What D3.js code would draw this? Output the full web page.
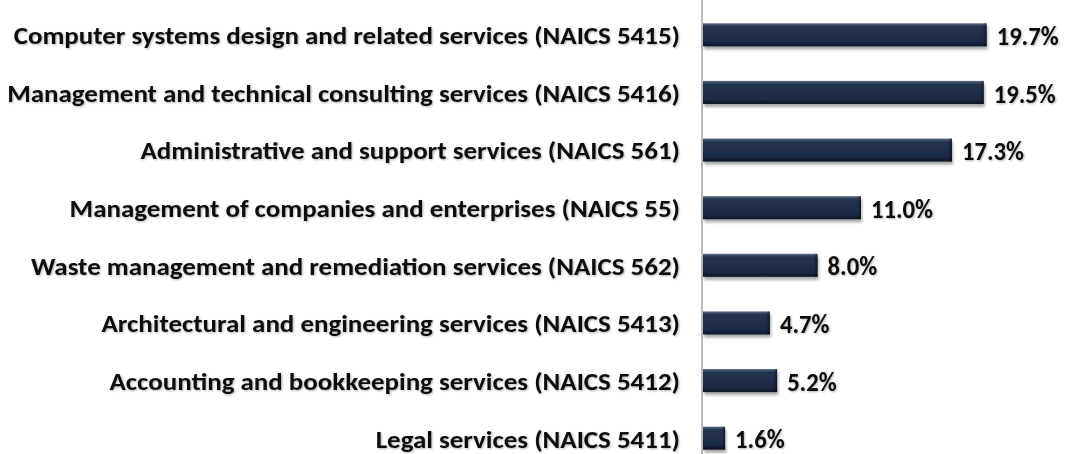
<!DOCTYPE html>
<html>
<head>
<meta charset="utf-8">
<script src="https://cdn.jsdelivr.net/npm/d3@7"></script>
<style>
  body { margin: 0; background: #fff; }
  text { font-family: Calibri, Lato, "Open Sans", sans-serif; font-weight: bold; fill: #0d0d0d; }
</style>
</head>
<body>
<div id="chart"></div>
<script>
var categories = [
  'Computer systems design and related services (NAICS 5415)',
  'Management and technical consulting services (NAICS 5416)',
  'Administrative and support services (NAICS 561)',
  'Management of companies and enterprises (NAICS 55)',
  'Waste management and remediation services (NAICS 562)',
  'Architectural and engineering services (NAICS 5413)',
  'Accounting and bookkeeping services (NAICS 5412)',
  'Legal services (NAICS 5411)'
]
var values = [19.7, 19.5, 17.3, 11.0, 8.0, 4.7, 5.2, 1.6]
var valueLabels = ['19.7%', '19.5%', '17.3%', '11.0%', '8.0%', '4.7%', '5.2%', '1.6%']

var width = 1067, height = 454
var svg = d3.select('#chart').append('svg').attr('width', width).attr('height', height)

var defs = svg.append('defs')
var grad = defs.append('linearGradient').attr('id', 'barGrad').attr('x1', 0).attr('y1', 0).attr('x2', 0).attr('y2', 1)
grad.append('stop').attr('offset', '0%').attr('stop-color', '#5a6a86')
grad.append('stop').attr('offset', '14%').attr('stop-color', '#24344f')
grad.append('stop').attr('offset', '80%').attr('stop-color', '#1b2a45')
grad.append('stop').attr('offset', '100%').attr('stop-color', '#0b1322')
var gradSide = defs.append('linearGradient').attr('id', 'sideGrad').attr('x1', 0).attr('y1', 0).attr('x2', 1).attr('y2', 0)
gradSide.append('stop').attr('offset', '0%').attr('stop-color', '#000').attr('stop-opacity', 0)
gradSide.append('stop').attr('offset', '100%').attr('stop-color', '#000').attr('stop-opacity', 0.45)

var shadow = defs.append('filter').attr('id', 'shadow').attr('x', '-5%').attr('y', '-30%').attr('width', '115%').attr('height', '180%')
shadow.append('feGaussianBlur').attr('in', 'SourceAlpha').attr('stdDeviation', 1.5)
shadow.append('feOffset').attr('dx', 1).attr('dy', 2.5).attr('result', 'ob')
shadow.append('feComponentTransfer').append('feFuncA').attr('type', 'linear').attr('slope', 0.35)
var mg = shadow.append('feMerge')
mg.append('feMergeNode')
mg.append('feMergeNode').attr('in', 'SourceGraphic')

var tshadow = defs.append('filter').attr('id', 'tshadow').attr('x', '-5%').attr('y', '-20%').attr('width', '110%').attr('height', '150%')
tshadow.append('feGaussianBlur').attr('in', 'SourceAlpha').attr('stdDeviation', 1.2)
tshadow.append('feOffset').attr('dx', 0.5).attr('dy', 1)
tshadow.append('feComponentTransfer').append('feFuncA').attr('type', 'linear').attr('slope', 0.3)
var tm = tshadow.append('feMerge')
tm.append('feMergeNode')
tm.append('feMergeNode').attr('in', 'SourceGraphic')

var x = d3.scaleLinear().domain([0, 20]).range([702, 991])
var y = d3.scaleBand().domain(categories).range([6, 467]).paddingInner(0.6).paddingOuter(0.3)

// category labels, tall font squeezed horizontally like the original
var catG = svg.append('g').attr('filter', 'url(#tshadow)')
var labels = catG.selectAll('.cat').data(categories).enter().append('text')
  .attr('class', 'cat')
  .attr('x', 0)
  .attr('y', function(d) { return y(d) + y.bandwidth() / 2 + 1 })
  .attr('dy', '0.35em')
  .attr('text-anchor', 'end')
  .style('font-size', '24px')
  .text(function(d) { return d })

var maxW = d3.max(labels.nodes(), function(n) { return n.getComputedTextLength() })
var sx = 673 / maxW
labels.attr('transform', 'translate(680,0) scale(' + sx + ',1)')

// axis line
svg.append('line').attr('x1', 702).attr('x2', 702).attr('y1', 0).attr('y2', height)
  .attr('stroke', '#a6a6a6').attr('stroke-width', 1.5)

var bars = svg.selectAll('.bar').data(values).enter().append('g').attr('class', 'bar').attr('filter', 'url(#shadow)')
bars.append('rect')
  .attr('x', x(0) + 1)
  .attr('y', function(d, i) { return y(categories[i]) })
  .attr('width', function(d) { return x(d) - x(0) - 1 })
  .attr('height', y.bandwidth())
  .attr('fill', 'url(#barGrad)')
bars.append('rect')
  .attr('x', function(d) { return x(d) - 4 })
  .attr('y', function(d, i) { return y(categories[i]) })
  .attr('width', 4)
  .attr('height', y.bandwidth())
  .attr('fill', 'url(#sideGrad)')

var valG = svg.append('g').attr('filter', 'url(#tshadow)')
var vals = valG.selectAll('.val').data(values).enter().append('text')
  .attr('class', 'val')
  .attr('x', 0)
  .attr('y', function(d, i) { return y(categories[i]) + y.bandwidth() / 2 + 1 })
  .attr('dy', '0.35em')
  .style('font-size', '26px')
  .text(function(d, i) { return valueLabels[i] })

var w0 = vals.nodes()[0].getComputedTextLength()
var vsx = 62 / w0
vals.attr('transform', function(d) { return 'translate(' + (x(d) + 10) + ',0) scale(' + vsx + ',1)' })
</script>
</body>
</html>
